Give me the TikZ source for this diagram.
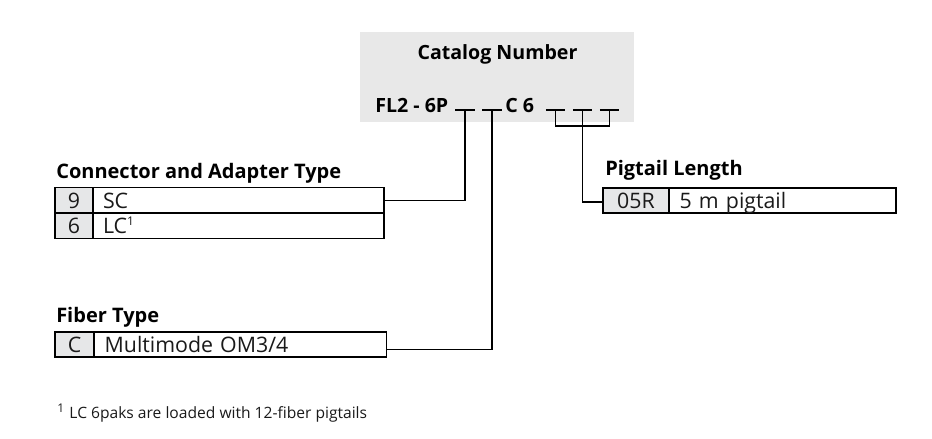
\documentclass[tikz,border=0pt]{standalone}
\usepackage{fontspec}
\setmainfont{Open Sans}
\definecolor{boxgray}{HTML}{E8E8E8}
\definecolor{cellgray}{HTML}{E6E7E8}
\definecolor{ink}{HTML}{1A1A1A}
\begin{document}
\begin{tikzpicture}[x=0.75pt,y=-0.75pt,
  conn/.style={draw=black,line width=0.8pt},
  cellbox/.style={draw=black,line width=0.8pt,anchor=north west,inner xsep=0pt,inner ysep=0pt,outer sep=0pt,
     text height=12.75pt,text depth=0.75pt,font=\fontsize{16}{18}\selectfont,text=ink},
  keycell/.style={cellbox,fill=cellgray},
  valcell/.style={cellbox,align=left,inner xsep=7.5pt},
  heading/.style={anchor=base west,inner sep=0pt,font=\fontsize{15}{17}\selectfont\bfseries,text=black},
  blank/.style={inner sep=0pt,minimum height=0pt,minimum width=14.6pt,outer sep=0pt},
  blankline/.style={draw=black,line width=0.8pt}
]
\fill[white] (0,0) rectangle (932,439);
\useasboundingbox (0,0) rectangle (932,439);

% catalog number box
\node[anchor=north west,fill=boxgray,minimum width=205.5pt,minimum height=67.5pt,inner sep=0pt] (catbox) at (360,32) {};
\node[anchor=base,inner sep=0pt,font=\fontsize{14.7}{17}\selectfont\bfseries] (cattitle) at (497.5,59) {Catalog Number};
\node[heading,font=\fontsize{14.7}{17}\selectfont\bfseries] (fl2) at (375,112) {FL2 - 6P};
\node[heading,font=\fontsize{14.7}{17}\selectfont\bfseries] (c6) at (505,112) {C 6};
\node[blank] (u1) at (465,110) {};
\node[blank] (u2) at (492,110) {};
\node[blank] (u3) at (555.5,110) {};
\node[blank] (u4) at (582.5,110) {};
\node[blank] (u5) at (609.5,110) {};
\foreach \n in {u1,u2,u3,u4,u5} \draw[blankline] (\n.west) -- (\n.east);

% connector and adapter type
\node[heading] (conntitle) at (56,178) {Connector and Adapter Type};
\node[keycell,minimum width=28.5pt,minimum height=19.125pt] (k9) at (55,187.5) {9};
\node[valcell,minimum width=218.25pt,minimum height=19.125pt,text width=203.25pt] (sc) at (93,187.5) {SC};
\node[keycell,minimum width=28.5pt,minimum height=19.125pt] (k6) at (55,213) {6};
\node[valcell,minimum width=218.25pt,minimum height=19.125pt,text width=203.25pt] (lc) at (93,213) {LC\textsuperscript{\fontsize{9}{10}\selectfont 1}};

% fiber type
\node[heading] (fibtitle) at (56,322) {Fiber Type};
\node[keycell,minimum width=29.25pt,minimum height=18.75pt] (kc) at (55,332) {C};
\node[valcell,minimum width=218.25pt,minimum height=18.75pt,text width=203.25pt,inner xsep=8pt] (mm) at (94,332) {Multimode OM3/4};

% pigtail length
\node[heading] (pigtitle) at (605,175) {Pigtail Length};
\node[keycell,minimum width=49.5pt,minimum height=18.75pt] (k05) at (603,188) {05R};
\node[valcell,minimum width=170.25pt,minimum height=18.75pt,text width=154.25pt,inner xsep=8pt] (pig) at (669,188) {5 m pigtail};

% connectors
\draw[conn] (u1.center) |- (sc.east);
\draw[conn] (u2.center) |- ([yshift=-3.4pt]mm.east);
\draw[conn] (u3.center) -- ++(0,16) -| (u5.center);
\draw[conn] (u4.center) |- ([yshift=-1.1pt]k05.west);

% footnote
\node[anchor=base west,inner sep=0pt,font=\fontsize{11.7}{13}\selectfont,text=ink] (foot) at (57,418) {\textsuperscript{\fontsize{9}{10}\selectfont 1}\hspace{0.3em}LC 6paks are loaded with 12-fiber pigtails};
\end{tikzpicture}
\end{document}
